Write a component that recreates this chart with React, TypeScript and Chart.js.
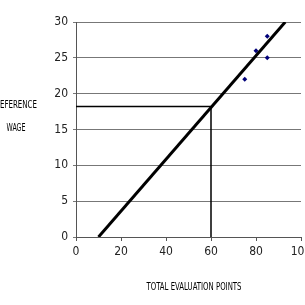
import React, { useEffect, useRef } from "react";
import { Chart, registerables } from "chart.js";

Chart.register(...registerables);

const trendX = [10, 93];
const trendY = [0, 30];
const refX = [0, 60, 60];
const refY = [18.2, 18.2, 0];
const pointsX = [75, 80, 85, 85];
const pointsY = [22, 26, 25, 28];
const xTicks = [0, 20, 40, 60, 80, 100];
const yTicks = [0, 5, 10, 15, 20, 25, 30];
const yTitleLines = ["REFERENCE", "WAGE"];
const xTitle = "TOTAL EVALUATION POINTS";

const FONT = "'Liberation Sans Narrow', 'DejaVu Sans Condensed', 'Liberation Sans', sans-serif";

const toPts = (xs: number[], ys: number[]) => xs.map((x, i) => ({ x, y: ys[i] }));

function drawFitted(ctx: CanvasRenderingContext2D, text: string, cx: number, cy: number, width: number) {
  const w = ctx.measureText(text).width;
  const s = width / w;
  ctx.save();
  ctx.translate(cx, cy);
  ctx.scale(s, 1);
  ctx.fillText(text, 0, 0);
  ctx.restore();
}

const titlePlugin = {
  id: "titles",
  afterDraw(chart: any) {
    const ctx = chart.ctx as CanvasRenderingContext2D;
    ctx.save();
    ctx.fillStyle = "#000";
    ctx.font = `10.5px ${FONT}`;
    ctx.textAlign = "center";
    ctx.textBaseline = "middle";
    drawFitted(ctx, yTitleLines[0], 16, 105, 42);
    drawFitted(ctx, yTitleLines[1], 16, 128, 19);
    drawFitted(ctx, xTitle, 194, 287, 95);
    ctx.restore();
  },
};

export default function App() {
  const ref = useRef<HTMLCanvasElement | null>(null);
  useEffect(() => {
    if (!ref.current) return;
    const chart = new Chart(ref.current, {
      type: "scatter",
      data: {
        datasets: [
          {
            data: toPts(trendX, trendY),
            showLine: true,
            borderColor: "#000",
            borderWidth: 3,
            pointRadius: 0,
          },
          {
            data: toPts(refX, refY),
            showLine: true,
            borderColor: "#000",
            borderWidth: 1.5,
            pointRadius: 0,
          },
          {
            data: toPts(pointsX, pointsY),
            pointStyle: "rectRot",
            pointRadius: 2.5,
            backgroundColor: "#00007a",
            borderColor: "#00007a",
            borderWidth: 0,
          },
        ],
      } as any,
      plugins: [titlePlugin],
      options: {
        animation: false,
        responsive: true,
        maintainAspectRatio: false,
        layout: { padding: { top: 22, right: 4, left: 0, bottom: 0 } },
        plugins: { legend: { display: false }, tooltip: { enabled: false } },
        scales: {
          x: {
            type: "linear",
            min: 0,
            max: 100,
            afterBuildTicks: (s: any) => {
              s.ticks = xTicks.map((v) => ({ value: v }));
            },
            afterFit: (s: any) => {
              s.height = 68;
              s.paddingLeft = 0;
              s.paddingRight = 0;
            },
            ticks: { color: "#222", font: { family: FONT, size: 12 }, padding: 4, maxRotation: 0 },
            grid: { drawOnChartArea: false, drawTicks: true, tickLength: 4, color: "#555" },
            border: { display: true, color: "#555" },
          },
          y: {
            type: "linear",
            min: 0,
            max: 30,
            afterBuildTicks: (s: any) => {
              s.ticks = yTicks.map((v) => ({ value: v }));
            },
            afterFit: (s: any) => {
              s.width = 76;
              s.paddingTop = 0;
              s.paddingBottom = 0;
            },
            ticks: { color: "#222", font: { family: FONT, size: 12 }, padding: 5 },
            grid: { color: "#777", lineWidth: 1, drawTicks: true, tickLength: 3 },
            border: { display: true, color: "#555" },
          },
        },
      } as any,
    });
    return () => chart.destroy();
  }, []);
  return (
    <div style={{ position: "fixed", left: 0, top: 0, width: 305, height: 305, background: "#fff" }}>
      <canvas ref={ref} />
    </div>
  );
}
